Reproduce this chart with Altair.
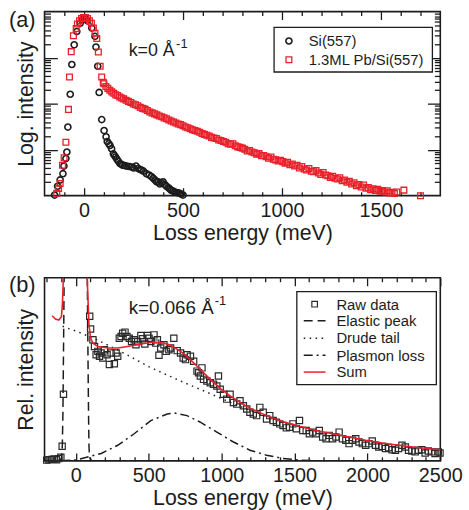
import altair as alt
import pandas as pd

FONT = "Liberation Sans"
INK = "#1c1c1c"
RED = "#e8202a"

# ---------------- Panel (a) data : energy (meV), intensity (arb., log) -------------
si_E = [-149, -134, -121, -107, -102, -92, -87, -82, -70, -62,
        -50, -37, -20, -12, 0, 10, 17, 39, 55, 60,
        69, 76, 89, 101, 111, 117, 131, 139, 148, 159,
        173, 181, 195, 215, 240, 262, 273, 290, 315, 329,
        349, 366, 383, 399, 416, 433, 450, 466, 483, 500,
        125, 153, 166, 188, 205, 228, 250, 283, 300, 340,
        358, 375, 391, 408, 425, 441, 458, 475, 491]
si_I = [1.03, 1.6, 2.2, 3.0, 4.4, 6.4, 8.9, 31, 160, 710,
        1900, 3700, 5600, 6600, 7200, 6900, 6300, 4400, 2900, 1700,
        650, 175, 45, 26, 19, 15, 12.3, 10.5, 8.1, 6.9,
        5.6, 5.0, 4.6, 4.4, 4.2, 4.4, 3.9, 3.6, 3.0, 2.8,
        2.4, 2.0, 1.8, 2.0, 1.6, 1.4, 1.26, 1.17, 1.12, 1.03,
        13.5, 7.5, 6.2, 4.8, 4.5, 4.3, 4.0, 3.7, 3.4, 2.6,
        2.2, 2.0, 1.9, 1.75, 1.5, 1.3, 1.2, 1.15, 1.08]

pb_peak_E = [-138, -129, -121, -109, -101, -92, -79, -74, -65, -54,
             -40, -34, -23, -13, -3, 7, 17, 27, 37, 47,
             55, 64, 72, 81, 89, 97]
pb_peak_I = [1.12, 1.44, 1.84, 4.6, 6.7, 14.5, 75, 380, 1350, 3000,
             4300, 5400, 6300, 7100, 7400, 7400, 7100, 6300, 5600, 4400,
             3400, 2600, 1320, 650, 380, 290]
pb_tail_E = [100, 110, 120, 130, 140, 150, 160, 170, 180, 190,
             200, 212, 224, 236, 248, 260, 272, 284, 296, 308,
             320, 332, 344, 356, 368, 380, 392, 404, 416, 428,
             440, 452, 464, 476, 488, 500, 512, 524, 536, 548,
             560, 572, 584, 596, 608, 620, 632, 644, 656, 668,
             680, 692, 704, 716, 728, 740, 752, 764, 776, 788,
             800, 812, 824, 836, 848, 860, 872, 884, 896, 908,
             920, 932, 944, 956, 968, 980, 992, 1004, 1016, 1028,
             1040, 1052, 1064, 1076, 1088, 1100, 1112, 1124, 1136, 1148,
             1160, 1172, 1184, 1196, 1208, 1220, 1232, 1244, 1256, 1268,
             1280, 1292, 1304, 1316, 1328, 1340, 1352, 1364, 1376, 1388,
             1400, 1412, 1424, 1436, 1448, 1460, 1472, 1484, 1496, 1508,
             1520, 1532, 1544, 1556, 1568, 1580, 1616, 1700]
pb_tail_I = [270, 235, 215, 195, 180, 168, 155, 150, 140, 133,
             127, 118, 112, 106, 98, 95, 90, 83, 79, 76,
             71, 66, 63, 60, 57, 54, 52, 49, 47, 44,
             42, 40, 38, 36, 35, 33, 31, 30, 28.5, 27,
             26, 25, 24, 22.5, 21.5, 20.5, 19.8, 18.5, 18, 17.5,
             16.2, 15.8, 15, 14.5, 13.4, 13.2, 13.5, 12.2, 11.5, 11.2,
             10.8, 10.2, 9.4, 9.6, 8.9, 8.6, 8.0, 8.2, 7.4, 7.5,
             7.0, 6.5, 6.9, 6.2, 6.0, 5.7, 5.9, 5.5, 5.1, 5.3,
             4.7, 4.9, 4.4, 4.6, 4.0, 4.3, 3.8, 3.6, 3.9, 3.4,
             3.3, 3.5, 3.1, 2.9, 3.2, 2.8, 2.7, 2.5, 2.65, 2.4,
             2.3, 2.45, 2.1, 2.2, 1.95, 2.05, 1.8, 1.9, 1.65, 1.75,
             1.55, 1.7, 1.45, 1.5, 1.35, 1.42, 1.3, 1.38, 1.25, 1.3,
             1.2, 1.28, 1.15, 1.18, 1.12, 1.2, 1.32, 1.0]

# ---------------- Panel (b) data : energy (meV), relative intensity -------------
raw_E = [-200, -185, -167, -150, -133, -118, -103, -94, -85, 95, 101,
         117, 128, 139, 151, 162, 173, 185, 196, 214, 230,
         241, 264, 276, 287, 298, 310, 321, 337, 350, 366,
         382, 400, 412, 423, 446, 457, 473, 491, 502, 514,
         536, 548, 559, 570, 582, 604, 620, 638, 650, 672,
         695, 718, 736, 752, 763, 786, 808, 831, 842, 854,
         865, 876, 899, 922, 944, 967, 978, 990, 1013, 1035,
         1058, 1081, 1104, 1126, 1149, 1172, 1194, 1217, 1240, 1262,
         1285, 1308, 1330, 1353, 1376, 1398, 1421, 1444, 1466, 1489,
         1512, 1534, 1557, 1580, 1602, 1625, 1648, 1670, 1693, 1716,
         1738, 1761, 1784, 1806, 1829, 1852, 1874, 1897, 1920, 1942,
         1965, 1988, 2010, 2033, 2056, 2078, 2101, 2124, 2146, 2169,
         2192, 2214, 2237, 2260, 2282, 2305, 2328, 2350, 2373, 2396,
         2418, 2441, 2464, 2486, 2498]
raw_Y = [0.004, 0.006, 0.008, 0.010, 0.006, 0.012, 0.020, 0.080, 0.364, 0.790, 0.720,
         0.661, 0.625, 0.580, 0.598, 0.571, 0.589, 0.562, 0.607, 0.580, 0.526,
         0.589, 0.530, 0.589, 0.571, 0.670, 0.679, 0.697, 0.703, 0.679, 0.670,
         0.652, 0.661, 0.634, 0.652, 0.685, 0.667, 0.638, 0.685, 0.670, 0.652,
         0.688, 0.643, 0.661, 0.577, 0.616, 0.634, 0.598, 0.607, 0.616, 0.670,
         0.602, 0.589, 0.562, 0.553, 0.580, 0.571, 0.544, 0.490, 0.481, 0.463,
         0.508, 0.445, 0.436, 0.427, 0.418, 0.409, 0.463, 0.391, 0.364, 0.337,
         0.364, 0.319, 0.310, 0.328, 0.301, 0.283, 0.265, 0.256, 0.247, 0.292,
         0.265, 0.229, 0.247, 0.220, 0.211, 0.202, 0.193, 0.180, 0.184, 0.202,
         0.175, 0.220, 0.166, 0.166, 0.148, 0.157, 0.148, 0.166, 0.130, 0.121,
         0.139, 0.121, 0.130, 0.157, 0.121, 0.112, 0.094, 0.112, 0.121, 0.103,
         0.094, 0.085, 0.094, 0.108, 0.085, 0.076, 0.079, 0.067, 0.072, 0.061,
         0.058, 0.067, 0.085, 0.076, 0.058, 0.054, 0.049, 0.058, 0.061, 0.043,
         0.054, 0.049, 0.040, 0.049, 0.043]

elastic_E = [-215, -130, -110, -100, -97, -93, -89, -86, -83, -80,
             0, 78, 81, 84, 87, 90, 94, 100, 110, 130]
elastic_Y = [0.0, 0.001, 0.004, 0.012, 0.02, 0.08, 0.25, 0.5, 0.75, 1.05,
             40, 1.05, 0.75, 0.5, 0.25, 0.08, 0.02, 0.008, 0.002, 0.0]

drude_E = [-91, -40, 0, 57, 100, 200, 300, 400, 500, 600,
           750, 900, 1000, 1100, 1200, 1300, 1420, 1540, 1650, 1760,
           1875, 2000, 2100, 2215, 2330, 2440, 2500]
drude_Y = [0.735, 0.72, 0.71, 0.69, 0.678, 0.64, 0.60, 0.558, 0.515, 0.478,
           0.425, 0.375, 0.34, 0.305, 0.275, 0.245, 0.213, 0.185, 0.163, 0.145,
           0.127, 0.11, 0.096, 0.084, 0.073, 0.064, 0.059]

plasmon_E = [-100, 0, 87, 174, 287, 400, 514, 627, 672, 763,
             854, 967, 1081, 1194, 1308, 1421, 1534, 1650]
plasmon_Y = [0.0, 0.005, 0.022, 0.04, 0.085, 0.148, 0.22, 0.256, 0.262, 0.247,
             0.211, 0.157, 0.103, 0.058, 0.031, 0.013, 0.004, 0.0]

sum_E = [-162, -140, -117, -99, -92, -88, -84, 0, 76, 80,
         83, 90, 101, 117, 151, 219, 287, 355, 446, 536,
         604, 650, 718, 786, 854, 922, 990, 1058, 1126, 1194,
         1308, 1421, 1534, 1648, 1761, 1874, 1988, 2101, 2214, 2328,
         2441, 2500]
sum_Y = [0.793, 0.775, 0.769, 0.787, 0.86, 0.95, 1.05, 40, 1.05, 0.95,
         0.886, 0.742, 0.670, 0.643, 0.625, 0.616, 0.616, 0.625, 0.638, 0.649,
         0.643, 0.631, 0.598, 0.553, 0.499, 0.445, 0.396, 0.355, 0.319, 0.288,
         0.247, 0.214, 0.189, 0.166, 0.148, 0.130, 0.112, 0.097, 0.085, 0.074,
         0.065, 0.061]

# ---------------- tick values -------------
XA_MAJOR = [0, 500, 1000, 1500]
XA_MINOR = [-100, 100, 200, 300, 400, 600, 700, 800, 900, 1100, 1200, 1300, 1400, 1600, 1700]
YA_MAJOR = [10, 100, 1000]
YA_MINOR = [2, 3, 4, 5, 6, 7, 8, 9, 20, 30, 40, 50, 60, 70, 80, 90,
            200, 300, 400, 500, 600, 700, 800, 900, 2000, 3000, 4000, 5000, 6000, 7000, 8000, 9000]
XB_MAJOR = [0, 500, 1000, 1500, 2000, 2500]
XB_MINOR = [-200, -100, 100, 200, 300, 400, 600, 700, 800, 900, 1100, 1200, 1300, 1400,
            1600, 1700, 1800, 1900, 2100, 2200, 2300, 2400]


def frame(xs, ys, cols):
    return pd.DataFrame(list(zip(xs, ys)), columns=cols)


df_si = frame(si_E, si_I, ["E", "I"])
df_pb = frame(pb_peak_E + pb_tail_E, pb_peak_I + pb_tail_I, ["E", "I"])
df_raw = frame(raw_E, raw_Y, ["E", "Y"])
df_el = frame(elastic_E, elastic_Y, ["E", "Y"])
df_dr = frame(drude_E, drude_Y, ["E", "Y"])
df_pl = frame(plasmon_E, plasmon_Y, ["E", "Y"])
df_sum = frame(sum_E, sum_Y, ["E", "Y"])
ONE = pd.DataFrame({"k": [0]})

W, HA, HB = 400, 186, 185
XSA = alt.Scale(domain=[-200, 1800], nice=False, zero=False)
YSA = alt.Scale(type="log", domain=[1, 10000], nice=False)
XSB = alt.Scale(domain=[-215, 2500], nice=False, zero=False)
YSB = alt.Scale(domain=[0, 1], nice=False, zero=False)


def tick_ax(orient, values, size, offset):
    return alt.Axis(orient=orient, offset=offset, values=values, tickSize=size,
                    tickWidth=1.3, tickColor=INK, labels=False, domain=False,
                    grid=False, title=None)


def xlab_ax(values):
    return alt.Axis(orient="bottom", values=values, format="d", ticks=False, domain=False,
                    grid=False, labelPadding=5, labelFontSize=20, labelFlush=False,
                    title="Loss energy (meV)", titlePadding=2)


def ytitle_ax(title):
    return alt.Axis(orient="left", labels=False, ticks=False, domain=False, grid=False,
                    title=title, titlePadding=7)


def text(t, x, y, size, align="left", baseline="alphabetic"):
    return alt.Chart(ONE).mark_text(text=t, font=FONT, fontSize=size, color=INK,
                                    align=align, baseline=baseline).encode(
        x=alt.value(x), y=alt.value(y))


def box(x1, x2, y1, y2):
    return alt.Chart(ONE).mark_rect(fill="white", stroke=INK, strokeWidth=1.3).encode(
        x=alt.value(x1), x2=alt.value(x2), y=alt.value(y1), y2=alt.value(y2))


def sym(shape, color, size, x, y, sw=1.4):
    return alt.Chart(ONE).mark_point(shape=shape, filled=False, color=color, size=size,
                                     strokeWidth=sw, opacity=1).encode(
        x=alt.value(x), y=alt.value(y))


def seg(x1, x2, y, color, dash=None):
    kw = dict(color=color, strokeWidth=1.5)
    if dash:
        kw["strokeDash"] = dash
    return alt.Chart(ONE).mark_rule(**kw).encode(x=alt.value(x1), x2=alt.value(x2), y=alt.value(y))


# ---------------- Panel (a) -------------
a_si = alt.Chart(df_si).mark_point(shape="circle", filled=False, color=INK, size=38,
                                   strokeWidth=1.6, opacity=1).encode(
    x=alt.X("E:Q", scale=XSA, axis=xlab_ax(XA_MAJOR)),
    y=alt.Y("I:Q", scale=YSA, axis=ytitle_ax("Log. intensity")))
a_pb = alt.Chart(df_pb).mark_point(shape="square", filled=False, color=RED, size=34,
                                   strokeWidth=1.3, opacity=1).encode(
    x=alt.X("E:Q", scale=XSA, axis=tick_ax("top", XA_MAJOR, 8, -HA)),
    y=alt.Y("I:Q", scale=YSA, axis=tick_ax("right", YA_MAJOR, 13, -W)))
a_c1 = alt.Chart(df_si).mark_point(opacity=0).encode(
    x=alt.X("E:Q", scale=XSA, axis=tick_ax("top", XA_MINOR, 4, -HA)),
    y=alt.Y("I:Q", scale=YSA, axis=tick_ax("right", YA_MINOR, 6, -W)))
a_c2 = alt.Chart(df_si).mark_point(opacity=0).encode(
    x=alt.X("E:Q", scale=XSA, axis=tick_ax("bottom", XA_MAJOR, 8, -HA)),
    y=alt.Y("I:Q", scale=YSA, axis=tick_ax("left", YA_MAJOR, 13, -W)))
a_c3 = alt.Chart(df_si).mark_point(opacity=0).encode(
    x=alt.X("E:Q", scale=XSA, axis=tick_ax("bottom", XA_MINOR, 4, -HA)),
    y=alt.Y("I:Q", scale=YSA, axis=tick_ax("left", YA_MINOR, 6, -W)))

panel_a = alt.layer(
    a_c1, a_c2, a_c3, a_si, a_pb,
    text("(a)", -36, 15.5, 22),
    text("k=0 Å", 85, 45, 18),
    text("-1", 133, 37, 13),
    box(232, 392, 16, 61),
    sym("circle", INK, 38, 247, 29.7, 1.6),
    sym("square", RED, 34, 247, 48.7, 1.3),
    text("Si(557)", 267, 35, 15),
    text("1.3ML Pb/Si(557)", 267, 54, 15),
).resolve_axis(x="independent", y="independent").properties(width=W, height=HA)

# ---------------- Panel (b) -------------
b_raw = alt.Chart(df_raw).mark_point(shape="square", filled=False, color="#2a2a2a", size=40,
                                     strokeWidth=1.2, opacity=1).encode(
    x=alt.X("E:Q", scale=XSB, axis=xlab_ax(XB_MAJOR)),
    y=alt.Y("Y:Q", scale=YSB, axis=ytitle_ax("Rel. intensity")))
b_el = alt.Chart(df_el).mark_line(clip=True, color=INK, strokeWidth=1.5, strokeDash=[9, 5]).encode(
    x=alt.X("E:Q", scale=XSB, axis=tick_ax("top", XB_MAJOR, 8, -HB)),
    y=alt.Y("Y:Q", scale=YSB, axis=None))
b_dr = alt.Chart(df_dr).mark_line(clip=True, color=INK, strokeWidth=1.5, strokeDash=[1.5, 4.5]).encode(
    x=alt.X("E:Q", scale=XSB, axis=tick_ax("top", XB_MINOR, 4, -HB)),
    y=alt.Y("Y:Q", scale=YSB, axis=None))
b_pl = alt.Chart(df_pl).mark_line(clip=True, color=INK, strokeWidth=1.5,
                                  strokeDash=[9, 4, 2, 4]).encode(
    x=alt.X("E:Q", scale=XSB, axis=tick_ax("bottom", XB_MAJOR, 8, -HB)),
    y=alt.Y("Y:Q", scale=YSB, axis=None))
b_sum = alt.Chart(df_sum).mark_line(clip=True, color=RED, strokeWidth=1.6).encode(
    x=alt.X("E:Q", scale=XSB, axis=tick_ax("bottom", XB_MINOR, 4, -HB)),
    y=alt.Y("Y:Q", scale=YSB, axis=None))

LX1, LX2, LXT = 262, 284, 295
rows = [26.7, 43.5, 61, 78.3, 95.3]
panel_b = alt.layer(
    b_raw, b_el, b_dr, b_pl, b_sum,
    text("(b)", -36, 14.5, 22),
    text("k=0.066 Å", 85, 36.5, 19),
    text("-1", 172, 27.5, 13),
    box(255, 396, 14, 108),
    sym("square", "#2a2a2a", 32, 273, rows[0], 1.2),
    seg(LX1, LX2, rows[1], INK, [9, 5]),
    seg(LX1, LX2, rows[2], INK, [1.5, 4.5]),
    seg(LX1, LX2, rows[3], INK, [9, 4, 2, 4]),
    seg(LX1, LX2, rows[4], RED),
    text("Raw data", LXT, rows[0] + 5.4, 15),
    text("Elastic peak", LXT, rows[1] + 5.4, 15),
    text("Drude tail", LXT, rows[2] + 5.4, 15),
    text("Plasmon loss", LXT, rows[3] + 5.4, 15),
    text("Sum", LXT, rows[4] + 5.4, 15),
).resolve_axis(x="independent", y="independent").properties(width=W, height=HB)

chart = alt.vconcat(panel_a, panel_b, spacing=28).properties(
    padding={"left": 8, "top": 5, "right": 5, "bottom": 3}, background="white"
).configure_view(stroke=INK, strokeWidth=1.6).configure_axis(
    labelFont=FONT, titleFont=FONT, labelColor=INK, titleColor=INK,
    titleFontWeight="normal", labelFontSize=20, titleFontSize=21.5)

chart.save("out.html", embed_options={"renderer": "svg", "actions": False})
